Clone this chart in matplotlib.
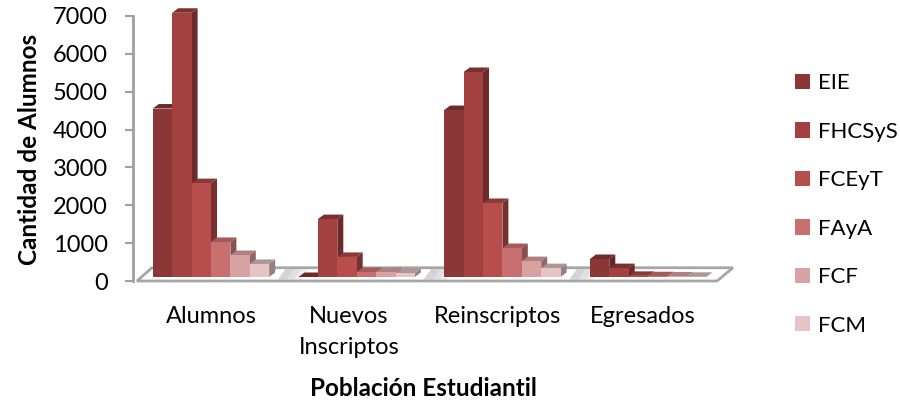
import matplotlib
matplotlib.use('Agg')
import matplotlib.pyplot as plt
from matplotlib.patches import Polygon, Patch

plt.rcParams['font.family'] = ['Lato', 'DejaVu Sans']

# --------------[DATA]----------------
series = ['EIE', 'FHCSyS', 'FCEyT', 'FAyA', 'FCF', 'FCM']
alumnos = [4450, 6980, 2480, 925, 580, 345]
nuevos = [0, 1530, 530, 130, 130, 105]
reinscriptos = [4410, 5415, 1955, 765, 420, 235]
egresados = [475, 235, 30, 20, 15, 5]
groups = [alumnos, nuevos, reinscriptos, egresados]
group_labels = ['Alumnos', 'Nuevos\nInscriptos', 'Reinscriptos', 'Egresados']
y_ticks = [0, 1000, 2000, 3000, 4000, 5000, 6000, 7000]

front_colors = ['#8B3737', '#A34141', '#B84E4B', '#C87070', '#D9A2A2', '#E5C3C6']
top_colors = ['#6E2B2B', '#7B3030', '#8A3838', '#A25A5A', '#B07F7F', '#AD9696']
side_colors = ['#642626', '#6C2A2A', '#772F2F', '#8A5050', '#906666', '#988080']

# --------------[LAYOUT]----------------
W, H = 900, 403
unit_px = 145.7    # pixels between groups
k_px = 37.86       # pixels per 1000 students
bar_w = 19.4 / unit_px
depth_x = 6 / unit_px
depth_y = 4.5 / k_px * 1000
base = 4 / k_px * 1000   # bars stand a bit behind the axis line
label_pos = [0.0, 0.947, 1.963, 2.96]

fig = plt.figure(figsize=(W / 100, H / 100), dpi=100)
ax = fig.add_axes([133 / W, (H - 281) / H, 600 / W, 265 / H])
ax.set_xlim(-78 / unit_px, 522 / unit_px)
ax.set_ylim(0, 7000)
ax.patch.set_alpha(0)

# floor
floor = Polygon([(-0.508, 0), (3.473, 0), (3.583, 350), (-0.405, 350)],
                closed=True, facecolor='white', edgecolor='#A6A6A6',
                linewidth=2, clip_on=False, zorder=1)
ax.add_patch(floor)

# soft grey streak on the floor in the gap after each group
for g in range(3):
    gap_x = g + 3 * bar_w + 0.06
    for w in [0.16, 0.11, 0.06]:
        ax.add_patch(Polygon([(gap_x, 40), (gap_x + w, 40), (gap_x + w + 0.05, 310), (gap_x + 0.05, 310)],
                             facecolor='#8C8C8C', alpha=0.14, edgecolor='none', zorder=1))

# bars
z = 2
for g, values in enumerate(groups):
    for i, v in enumerate(values):
        x0 = g + (i - 3) * bar_w
        x1 = x0 + bar_w
        y0 = base
        y1 = base + v
        ax.add_patch(Polygon([(x0, y1), (x1, y1), (x1 + depth_x, y1 + depth_y), (x0 + depth_x, y1 + depth_y)],
                             facecolor=top_colors[i], edgecolor='none', clip_on=False, zorder=z))
        ax.add_patch(Polygon([(x1, y0), (x1 + depth_x, y0 + depth_y), (x1 + depth_x, y1 + depth_y), (x1, y1)],
                             facecolor=side_colors[i], edgecolor='none', clip_on=False, zorder=z))
        ax.bar(x0, v, width=bar_w, bottom=y0, align='edge', color=front_colors[i],
               clip_on=False, zorder=z + 1)
        z += 2

# axes
for s in ['top', 'right', 'bottom']:
    ax.spines[s].set_visible(False)
ax.spines['left'].set_color('#A0A0A0')
ax.spines['left'].set_linewidth(2)
ax.set_yticks(y_ticks)
ax.tick_params(axis='y', length=6, width=1.5, color='#A0A0A0', pad=12, labelsize=17, labelcolor='black')
ax.set_xticks(label_pos)
ax.set_xticklabels(group_labels, fontsize=17, linespacing=1.58, va='top')
ax.tick_params(axis='x', length=0, pad=18)

fig.text(30 / W, 1 - 149 / H, 'Cantidad de Alumnos', rotation=90, ha='center', va='center',
         fontsize=17.5, fontweight='bold')
fig.text(423 / W, 1 - 389 / H, 'Población Estudiantil', ha='center', va='center',
         fontsize=17.5, fontweight='bold')

# legend
handles = [Patch(facecolor=c, edgecolor='none', label=s) for c, s in zip(front_colors, series)]
leg = fig.legend(handles=handles, loc='center left', bbox_to_anchor=(795 / W, 1 - 204.5 / H),
                 frameon=False, fontsize=16, handlelength=0.68, handleheight=0.68,
                 handletextpad=0.36, labelspacing=1.28, borderpad=0, borderaxespad=0)

fig.savefig('out.png', dpi=100)
